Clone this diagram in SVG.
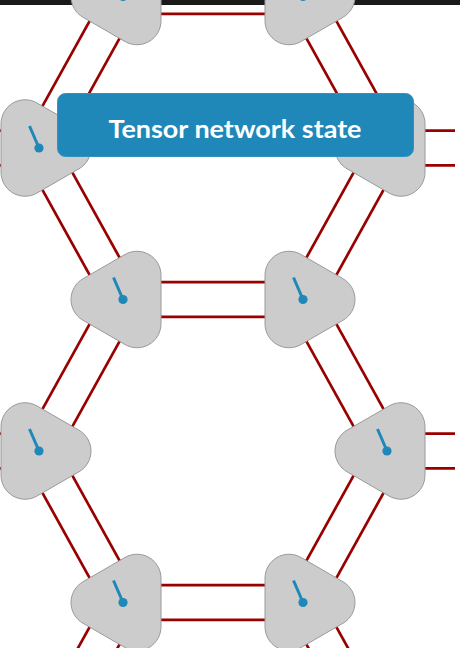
<svg xmlns="http://www.w3.org/2000/svg" xmlns:xlink="http://www.w3.org/1999/xlink" width="460" height="648" viewBox="0 0 460 648">
  <style>
    .bond { stroke: #990000; stroke-width: 2.7; fill: none; }
    .tensor { fill: #cccccc; stroke: #9a9a9a; stroke-width: 1; }
    .needle { stroke: #1f88b8; stroke-width: 3; stroke-linecap: butt; }
    .pivot { fill: #1f88b8; }
    .label-box { fill: #1f88b8; stroke: #2f93c0; stroke-width: 1; }
    .label-text { fill: #ffffff; font-family: Lato, "Liberation Sans", sans-serif; font-weight: bold; font-size: 25px; }
  </style>
  <defs>
    <!-- rounded equilateral triangle, centroid at origin, tip pointing left -->
    <path id="tri" class="tensor" d="M38,-24.25 L38,24.25 A24,24 0 0 1 2,45.03 L-40,20.78 A24,24 0 0 1 -40,-20.78 L2,-45.03 A24,24 0 0 1 38,-24.25 Z"/>
    <!-- physical index gauge -->
    <g id="gauge">
      <line class="needle" x1="0" y1="0" x2="-9.5" y2="-22"/>
      <circle class="pivot" cx="0" cy="0" r="4.6"/>
    </g>
  </defs>

  <rect x="0" y="0" width="460" height="5" fill="#1a1a1a"/>

  <g id="bonds">
    <!-- horizontal bonds -->
    <line class="bond" x1="123" y1="-20.8" x2="303" y2="-20.8"/>
    <line class="bond" x1="123" y1="13.8" x2="303" y2="13.8"/>
    <line class="bond" x1="123" y1="282.2" x2="303" y2="282.2"/>
    <line class="bond" x1="123" y1="316.8" x2="303" y2="316.8"/>
    <line class="bond" x1="123" y1="585.2" x2="303" y2="585.2"/>
    <line class="bond" x1="123" y1="619.8" x2="303" y2="619.8"/>
    <!-- open legs on the sides -->
    <line class="bond" x1="-29" y1="130.7" x2="39" y2="130.7"/>
    <line class="bond" x1="-29" y1="165.3" x2="39" y2="165.3"/>
    <line class="bond" x1="-29" y1="433.7" x2="39" y2="433.7"/>
    <line class="bond" x1="-29" y1="468.3" x2="39" y2="468.3"/>
    <line class="bond" x1="387" y1="130.7" x2="455" y2="130.7"/>
    <line class="bond" x1="387" y1="165.3" x2="455" y2="165.3"/>
    <line class="bond" x1="387" y1="433.7" x2="455" y2="433.7"/>
    <line class="bond" x1="387" y1="468.3" x2="455" y2="468.3"/>
    <!-- left diagonal bonds -->
    <line class="bond" x1="54.13" y1="-163.39" x2="138.13" y2="-11.89"/>
    <line class="bond" x1="23.87" y1="-146.61" x2="107.87" y2="4.89"/>
    <line class="bond" x1="138.13" y1="4.89" x2="54.13" y2="156.39"/>
    <line class="bond" x1="107.87" y1="-11.89" x2="23.87" y2="139.61"/>
    <line class="bond" x1="54.13" y1="139.61" x2="138.13" y2="291.11"/>
    <line class="bond" x1="23.87" y1="156.39" x2="107.87" y2="307.89"/>
    <line class="bond" x1="138.13" y1="307.89" x2="54.13" y2="459.39"/>
    <line class="bond" x1="107.87" y1="291.11" x2="23.87" y2="442.61"/>
    <line class="bond" x1="54.13" y1="442.61" x2="138.13" y2="594.11"/>
    <line class="bond" x1="23.87" y1="459.39" x2="107.87" y2="610.89"/>
    <line class="bond" x1="138.13" y1="610.89" x2="54.13" y2="762.39"/>
    <line class="bond" x1="107.87" y1="594.11" x2="23.87" y2="745.61"/>
    <!-- right diagonal bonds -->
    <line class="bond" x1="371.87" y1="-163.39" x2="287.87" y2="-11.89"/>
    <line class="bond" x1="402.13" y1="-146.61" x2="318.13" y2="4.89"/>
    <line class="bond" x1="287.87" y1="4.89" x2="371.87" y2="156.39"/>
    <line class="bond" x1="318.13" y1="-11.89" x2="402.13" y2="139.61"/>
    <line class="bond" x1="371.87" y1="139.61" x2="287.87" y2="291.11"/>
    <line class="bond" x1="402.13" y1="156.39" x2="318.13" y2="307.89"/>
    <line class="bond" x1="287.87" y1="307.89" x2="371.87" y2="459.39"/>
    <line class="bond" x1="318.13" y1="291.11" x2="402.13" y2="442.61"/>
    <line class="bond" x1="371.87" y1="442.61" x2="287.87" y2="594.11"/>
    <line class="bond" x1="402.13" y1="459.39" x2="318.13" y2="610.89"/>
    <line class="bond" x1="287.87" y1="610.89" x2="371.87" y2="762.39"/>
    <line class="bond" x1="318.13" y1="594.11" x2="402.13" y2="745.61"/>
  </g>

  <g id="t-top-left"><use xlink:href="#tri" transform="translate(123,-3.5)"/><use xlink:href="#gauge" transform="translate(123,-3.5)"/></g>
  <g id="t-top-right"><use xlink:href="#tri" transform="translate(303,-3.5) scale(-1,1)"/><use xlink:href="#gauge" transform="translate(303,-3.5)"/></g>
  <g id="t-148-left"><use xlink:href="#tri" transform="translate(39,148) scale(-1,1)"/><use xlink:href="#gauge" transform="translate(39,148)"/></g>
  <g id="t-148-right"><use xlink:href="#tri" transform="translate(387,148)"/><use xlink:href="#gauge" transform="translate(387,148)"/></g>
  <g id="t-300-left"><use xlink:href="#tri" transform="translate(123,299.5)"/><use xlink:href="#gauge" transform="translate(123,299.5)"/></g>
  <g id="t-300-right"><use xlink:href="#tri" transform="translate(303,299.5) scale(-1,1)"/><use xlink:href="#gauge" transform="translate(303,299.5)"/></g>
  <g id="t-451-left"><use xlink:href="#tri" transform="translate(39,451) scale(-1,1)"/><use xlink:href="#gauge" transform="translate(39,451)"/></g>
  <g id="t-451-right"><use xlink:href="#tri" transform="translate(387,451)"/><use xlink:href="#gauge" transform="translate(387,451)"/></g>
  <g id="t-602-left"><use xlink:href="#tri" transform="translate(123,602.5)"/><use xlink:href="#gauge" transform="translate(123,602.5)"/></g>
  <g id="t-602-right"><use xlink:href="#tri" transform="translate(303,602.5) scale(-1,1)"/><use xlink:href="#gauge" transform="translate(303,602.5)"/></g>

  <g id="title">
    <rect class="label-box" x="57.5" y="93.5" width="356" height="63" rx="8" ry="8"/>
    <text class="label-text" x="235" y="137.5" text-anchor="middle" textLength="253" lengthAdjust="spacingAndGlyphs">Tensor network state</text>
  </g>
</svg>
